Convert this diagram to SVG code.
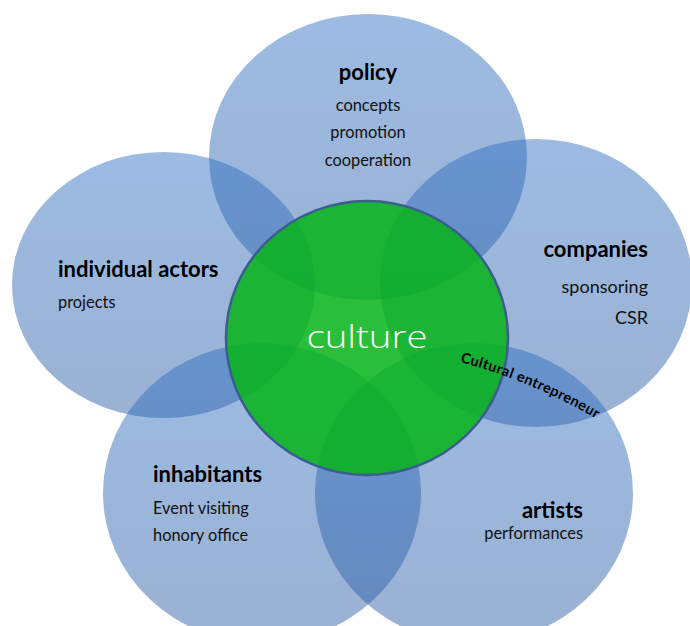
<svg xmlns="http://www.w3.org/2000/svg" width="690" height="626" viewBox="0 0 690 626">
  <defs>
    <!-- soft blue fill shared by the five surrounding ellipses -->
    <linearGradient id="blueFill" x1="0" y1="0" x2="0" y2="1">
      <stop offset="0" stop-color="#2d6ec3"/>
      <stop offset="1" stop-color="#285aa0"/>
    </linearGradient>
    <path id="arcLabel" d="M 460,362 Q 535,382 600,421"/>
  </defs>
  <style>
    .petal { fill: url(#blueFill); fill-opacity: 0.47; }
    .core { fill: #05b418; fill-opacity: 0.85; stroke: #3c5d8f; stroke-width: 2.5; }
    .head { font-family: Lato, "Liberation Sans", sans-serif; font-weight: bold; font-size: 22px; fill: #000; }
    .item { font-family: Lato, "Liberation Sans", sans-serif; font-size: 16.4px; fill: #111; }
    .big { font-size: 18px; }
    .core-label { font-family: "Open Sans", "DejaVu Sans", sans-serif; font-weight: 300; font-size: 32px; fill: #ffffff; }
    .arc-label { font-family: Lato, "Liberation Sans", sans-serif; font-weight: bold; font-size: 14.5px; fill: #000; }
  </style>

  <rect width="690" height="626" fill="#ffffff"/>

  <g id="policy">
    <ellipse class="petal" cx="368" cy="157" rx="159" ry="143"/>
    <text class="head" x="368" y="80" text-anchor="middle">policy</text>
    <text class="item" x="368" y="111" text-anchor="middle">concepts</text>
    <text class="item" x="368" y="138" text-anchor="middle">promotion</text>
    <text class="item" x="368" y="166" text-anchor="middle">cooperation</text>
  </g>

  <g id="individual-actors">
    <ellipse class="petal" cx="163.5" cy="285" rx="151.5" ry="133"/>
    <text class="head" x="58" y="277">individual actors</text>
    <text class="item" x="58" y="308">projects</text>
  </g>

  <g id="companies">
    <ellipse class="petal" cx="536" cy="283" rx="156" ry="144"/>
    <text class="head" x="648" y="257" text-anchor="end">companies</text>
    <text class="item big" x="648" y="293" text-anchor="end">sponsoring</text>
    <text class="item big" x="648" y="324" text-anchor="end">CSR</text>
  </g>

  <g id="inhabitants">
    <ellipse class="petal" cx="262" cy="493" rx="159" ry="150"/>
    <text class="head" x="153" y="482">inhabitants</text>
    <text class="item" x="153" y="514">Event visiting</text>
    <text class="item" x="153" y="541">honory office</text>
  </g>

  <g id="artists">
    <ellipse class="petal" cx="474" cy="493" rx="159" ry="150"/>
    <text class="head" x="583" y="518" text-anchor="end">artists</text>
    <text class="item" x="583" y="539" text-anchor="end">performances</text>
  </g>

  <g id="culture">
    <ellipse class="core" cx="367" cy="338" rx="141" ry="137"/>
    <text class="core-label" x="367" y="348" text-anchor="middle" textLength="121" lengthAdjust="spacingAndGlyphs">culture</text>
  </g>

  <g id="cultural-entrepreneur">
    <text class="arc-label"><textPath href="#arcLabel" textLength="148">Cultural entrepreneur</textPath></text>
  </g>

  <g id="connectors"></g>
</svg>
